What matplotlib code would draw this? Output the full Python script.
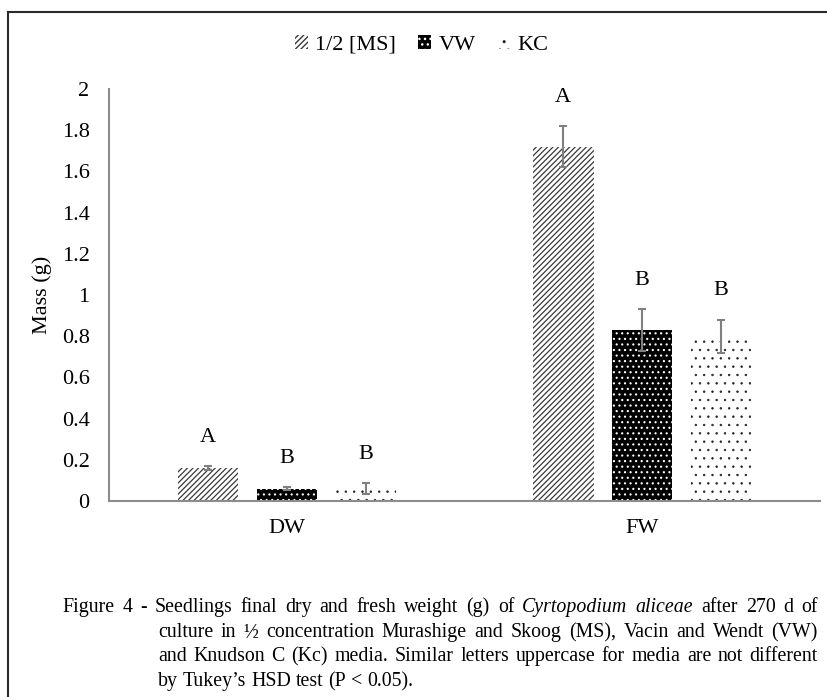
import matplotlib
matplotlib.use('Agg')
import matplotlib.pyplot as plt
from matplotlib.lines import Line2D
import numpy as np

# ── Data ──────────────────────────────────────────────────────────────────────

groups = ['DW', 'FW']
media = ['1/2 [MS]', 'VW', 'KC']

ms_mean = [0.16, 1.72]
vw_mean = [0.06, 0.83]
kc_mean = [0.06, 0.80]

ms_err = [0.008, 0.10]
vw_err = [0.008, 0.10]
kc_err = [0.028, 0.08]

ms_letters = ['A', 'A']
vw_letters = ['B', 'B']
kc_letters = ['B', 'B']

yticks = [0, 0.2, 0.4, 0.6, 0.8, 1, 1.2, 1.4, 1.6, 1.8, 2]
ytick_labels = ['0', '0.2', '0.4', '0.6', '0.8', '1', '1.2', '1.4', '1.6', '1.8', '2']

caption_lines = [
    [('Figure', 'normal'), ('4', 'normal'), ('-', 'normal'), ('Seedlings', 'normal'),
     ('final', 'normal'), ('dry', 'normal'), ('and', 'normal'), ('fresh', 'normal'),
     ('weight', 'normal'), ('(g)', 'normal'), ('of', 'normal'), ('Cyrtopodium', 'italic'),
     ('aliceae', 'italic'), ('after', 'normal'), ('270', 'normal'), ('d', 'normal'),
     ('of', 'normal')],
    [(w, 'normal') for w in 'culture in ½ concentration Murashige and Skoog (MS), Vacin and Wendt (VW)'.split()],
    [(w, 'normal') for w in 'and Knudson C (Kc) media. Similar letters uppercase for media are not different'.split()],
    [(w, 'normal') for w in 'by Tukey’s HSD test (P < 0.05).'.split()],
]

# ── Style ─────────────────────────────────────────────────────────────────────

plt.rcParams['font.family'] = ['Liberation Serif', 'DejaVu Serif']
plt.rcParams['hatch.linewidth'] = 1.0

W, H = 828, 697
FS = 16
fig = plt.figure(figsize=(W / 100, H / 100), dpi=100)
ax = fig.add_axes([109 / W, 1 - 501 / H, (820 - 109) / W, (501 - 89) / H])

x = np.arange(len(groups))
width = 0.17
offsets = [-0.222, 0.0, 0.222]
styles = [
    dict(facecolor='white', edgecolor='#3a3a3a', hatch='//////', linewidth=0),
    dict(facecolor='black', edgecolor='white', hatch='...', linewidth=0),
    dict(facecolor='white', edgecolor='#222222', hatch='..', linewidth=0),
]
hatch_lw = [0.9, 0.8, 0.5]
means = [ms_mean, vw_mean, kc_mean]
errs = [ms_err, vw_err, kc_err]
letters = [ms_letters, vw_letters, kc_letters]

handles = []
for i in range(3):
    b = ax.bar(x + offsets[i], means[i], width, label=media[i], **styles[i])
    for p in b.patches:
        if hasattr(p, 'set_hatch_linewidth'):
            p.set_hatch_linewidth(hatch_lw[i])
    handles.append(b)
    ax.errorbar(x + offsets[i], means[i], yerr=errs[i], fmt='none',
                ecolor='#808080', elinewidth=1.5, capsize=3, capthick=1.5)
    for xi, m, e, lab in zip(x + offsets[i], means[i], errs[i], letters[i]):
        ax.text(xi, m + e + 0.14, lab, ha='center', va='center', fontsize=FS)

ax.set_xlim(-0.5, 1.5)
ax.set_ylim(0, 2)
ax.set_yticks(yticks)
ax.set_yticklabels(ytick_labels)
ax.set_xticks(x)
ax.set_xticklabels(groups)
ax.tick_params(axis='both', length=0, labelsize=FS)
ax.tick_params(axis='y', pad=14)
ax.tick_params(axis='x', pad=13)

for s in ['top', 'right']:
    ax.spines[s].set_visible(False)
for s in ['left', 'bottom']:
    ax.spines[s].set_color('#8c8c8c')
    ax.spines[s].set_linewidth(1.5)

ax.set_ylabel('Mass (g)', fontsize=FS)
ax.yaxis.set_label_coords(-0.08, 0.5)

leg = fig.legend(handles=handles, loc='center', bbox_to_anchor=(422 / W, 1 - 45 / H),
                 ncol=3, frameon=False, fontsize=FS, handlelength=0.55, handleheight=0.55,
                 handletextpad=0.35, columnspacing=1.0)

# ── Frame (left and top edges only) ───────────────────────────────────────────

fx, fy = 8 / W, 1 - 12 / H
fig.lines.append(Line2D([fx, fx], [0, fy], color='#2a2a2a', lw=1.5,
                        transform=fig.transFigure, figure=fig))
fig.lines.append(Line2D([fx, 1], [fy, fy], color='#2a2a2a', lw=1.5,
                        transform=fig.transFigure, figure=fig))

# ── Caption (justified) ───────────────────────────────────────────────────────

CAP_SIZE = 14.3
x_first, x_indent, x_right = 62, 158, 818
baselines = [612, 637, 661, 686]

renderer = fig.canvas.get_renderer()
for li, words in enumerate(caption_lines):
    x0 = x_first if li == 0 else x_indent
    y = 1 - baselines[li] / H
    txts = [fig.text(0, y, w, fontsize=CAP_SIZE, style=st, va='baseline', ha='left')
            for w, st in words]
    widths = [t.get_window_extent(renderer).width for t in txts]
    if li == len(caption_lines) - 1:
        gap = CAP_SIZE * 0.25 * 100 / 72
    else:
        gap = (x_right - x0 - sum(widths)) / (len(words) - 1)
    cur = x0
    for t, w in zip(txts, widths):
        t.set_x(cur / W)
        cur += w + gap

fig.savefig('out.png', dpi=100)
